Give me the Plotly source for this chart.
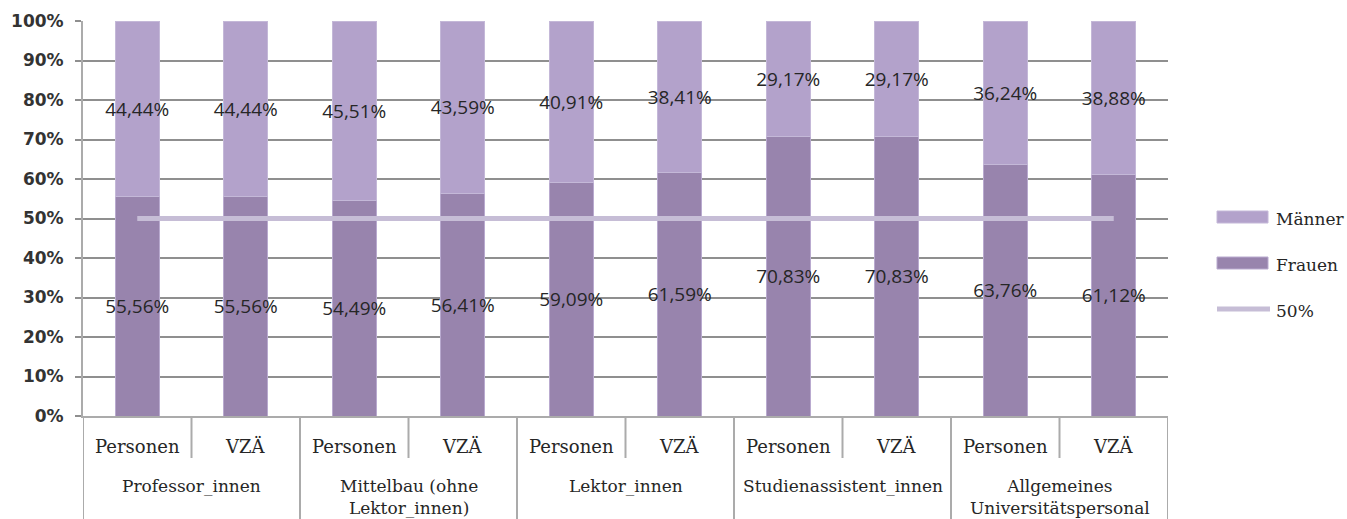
import plotly.graph_objects as go

groups = ["Professor_innen", "Mittelbau (ohne<br>Lektor_innen)", "Lektor_innen",
          "Studienassistent_innen", "Allgemeines<br>Universitätspersonal"]
subcats = ["Personen", "VZÄ"]
frauen = [55.56, 55.56, 54.49, 56.41, 59.09, 61.59, 70.83, 70.83, 63.76, 61.12]
maenner = [44.44, 44.44, 45.51, 43.59, 40.91, 38.41, 29.17, 29.17, 36.24, 38.88]
ref_line = [50, 50]
y_ticks = [0, 10, 20, 30, 40, 50, 60, 70, 80, 90, 100]
legend_names = ["Männer", "Frauen", "50%"]

keys = [f"{g}|{s}" for g in groups for s in subcats]
inner = [s for _ in groups for s in subcats]

def fmt(v):
    return f"{v:.2f}".replace(".", ",") + "%"

SERIF = "DejaVu Serif"
SANS = "Open Sans"
TXT = "#262626"
GRID = "#8f8f8f"
AXIS = "#ababab"
C_M = "#b3a2cb"
C_F = "#9884ad"
C_L = "#c6bdd6"

# body margin is removed in the page (see post_script), so figure px == screen px
W, H = 1347, 519
PLOT_TOP, PLOT_BOT = 21, 416
PLOT_L, PLOT_R = 83, 1168
PH = PLOT_BOT - PLOT_TOP
PW = PLOT_R - PLOT_L
def py(pix):
    return (PLOT_BOT - pix) / PH
def px(pix):
    return (pix - PLOT_L) / PW

fig = go.Figure()
fig.add_trace(go.Bar(
    x=keys, y=frauen, name="Frauen",
    marker=dict(color=C_F, line=dict(color="#b9aacf", width=1)),
    text=[fmt(v) for v in frauen], textposition="inside", insidetextanchor="middle",
    textangle=0, textfont=dict(family=SANS, size=19, color="#262626"),
    showlegend=False, cliponaxis=False,
))
fig.add_trace(go.Bar(
    x=keys, y=maenner, name="Männer",
    marker=dict(color=C_M, line=dict(color="#c4b8d8", width=1)),
    text=[fmt(v) for v in maenner], textposition="inside", insidetextanchor="middle",
    textangle=0, textfont=dict(family=SANS, size=19, color="#262626"),
    showlegend=False, cliponaxis=False,
))
fig.add_trace(go.Scatter(
    x=[keys[0], keys[-1]], y=ref_line, name="50%",
    mode="lines", line=dict(color=C_L, width=5),
    showlegend=False,
))

annotations = []
shapes = []
for i, s in enumerate(inner):
    annotations.append(dict(x=i, y=py(446), xref="x", yref="paper", text=s,
                            showarrow=False, yanchor="middle",
                            font=dict(family=SERIF, size=18, color=TXT)))
for gi, g in enumerate(groups):
    annotations.append(dict(x=2 * gi + 0.5, y=py(474), xref="x", yref="paper", text=g,
                            showarrow=False, yanchor="top", align="center",
                            font=dict(family=SERIF, size=17, color=TXT)))
n = len(keys)
for b in range(0, n + 1, 2):
    shapes.append(dict(type="line", xref="x", yref="paper", x0=b - 0.5, x1=b - 0.5,
                       y0=0, y1=py(522), line=dict(color=AXIS, width=2)))
for b in range(1, n, 2):
    shapes.append(dict(type="line", xref="x", yref="paper", x0=b - 0.5, x1=b - 0.5,
                       y0=0, y1=py(458), line=dict(color=AXIS, width=2)))

# legend drawn as keys + labels (wide swatches like the reference)
leg_y = [217, 263, 309]
shapes.append(dict(type="rect", xref="paper", yref="paper", x0=px(1217), x1=px(1268),
                   y0=py(leg_y[0] - 6), y1=py(leg_y[0] + 6), fillcolor=C_M,
                   line=dict(color="#c4b8d8", width=1)))
shapes.append(dict(type="rect", xref="paper", yref="paper", x0=px(1217), x1=px(1268),
                   y0=py(leg_y[1] - 6), y1=py(leg_y[1] + 6), fillcolor=C_F,
                   line=dict(color="#b9aacf", width=1)))
shapes.append(dict(type="line", xref="paper", yref="paper", x0=px(1217), x1=px(1270),
                   y0=py(leg_y[2]), y1=py(leg_y[2]), line=dict(color=C_L, width=5)))
for name, yy in zip(legend_names, leg_y):
    annotations.append(dict(x=px(1274), y=py(yy + 2), xref="paper", yref="paper",
                            text=name, showarrow=False, xanchor="left", yanchor="middle",
                            font=dict(family=SERIF, size=17, color=TXT)))

fig.update_layout(
    width=W, height=H,
    margin=dict(l=PLOT_L, r=W - PLOT_R, t=PLOT_TOP, b=H - PLOT_BOT),
    paper_bgcolor="white", plot_bgcolor="white",
    barmode="stack", bargap=0.59,
    uniformtext=dict(minsize=19, mode="show"),
    font=dict(family=SERIF, color=TXT, size=16),
    showlegend=False,
    hovermode=False,
    annotations=annotations,
    shapes=shapes,
)
fig.update_yaxes(
    range=[0, 100], tickvals=y_ticks, ticktext=[f"{v}%" for v in y_ticks],
    showgrid=True, gridcolor=GRID, gridwidth=2,
    showline=True, linecolor=AXIS, linewidth=2,
    ticks="outside", ticklen=6, tickcolor=GRID, tickwidth=2,
    ticklabelstandoff=8,
    tickfont=dict(family="DejaVu Sans", size=17, color="#333333", weight="bold"),
    zeroline=False, automargin=False,
)
fig.update_xaxes(
    type="category", categoryorder="array", categoryarray=keys,
    range=[-0.5, n - 0.5],
    showticklabels=False, ticks="",
    showline=True, linecolor=AXIS, linewidth=2,
    automargin=False,
)
fig.write_html(
    "out.html",
    config={"displayModeBar": False},
    post_script="document.body.style.margin='0';document.body.style.overflow='hidden';",
)
